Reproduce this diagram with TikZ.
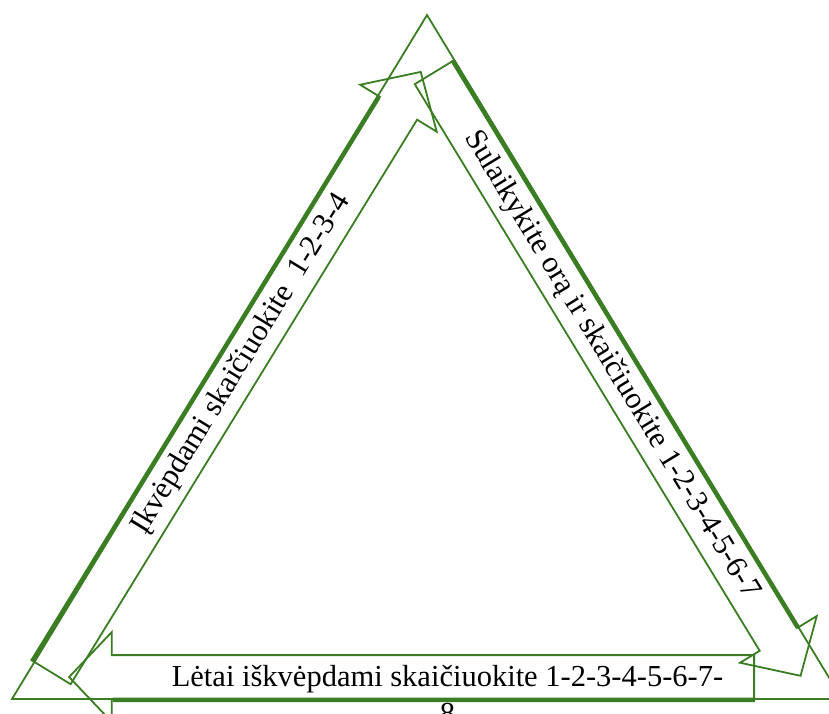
\documentclass[tikz,border=0pt]{standalone}
\usepackage{fontspec}
\setmainfont{Liberation Serif}
\usetikzlibrary{shapes.arrows}
\definecolor{breathgreen}{RGB}{58,125,34}

\begin{document}
\begin{tikzpicture}[x=1pt, y=-1pt,
  breath/.style={single arrow, draw=breathgreen, line width=1.8pt, minimum width=88pt,
    single arrow head extend=23pt, single arrow tip angle=93,
    inner xsep=0pt, inner ysep=21pt, anchor=tail},
  rim/.style={draw=breathgreen, line width=4.5pt},
  caption/.style={font=\fontsize{30.5}{37}\selectfont, inner sep=0pt}]
  \useasboundingbox (0,0) rectangle (829,713);
  \clip (0,0) rectangle (829,713);

  % Outer triangle
  \draw[breathgreen, line width=1.8pt] (12,699) -- (427,15) -- (842,699) -- cycle;

  % Breathing arrows
  \node[breath, minimum height=705pt, rotate=58.46] (inhale) at (51.5,673.5) {};
  \node[breath, minimum height=706pt, rotate=-58.67] (hold) at (433,72) {};
  \node[breath, minimum height=685pt, rotate=180] (exhale) at (755,677) {};

  % Thick outer rims
  \draw[rim] (inhale.before head) -- (inhale.after tail);
  \draw[rim] (hold.before head) -- (hold.after tail);
  \draw[rim] (exhale.before head) -- (exhale.after tail);

  % Labels
  \node[caption, rotate=58.46] (inhaleText) at (241.3,364.2) {Įkvėpdami skaičiuokite\ \ 1-2-3-4};
  \node[caption, rotate=-58.67] (holdText) at (611.4,364.9) {Sulaikykite orą ir skaičiuokite 1-2-3-4-5-6-7};
  \node[caption, align=center, anchor=base] (exhaleText) at (447.5,723) {Lėtai iškvėpdami skaičiuokite 1-2-3-4-5-6-7-\\8};
\end{tikzpicture}
\end{document}
